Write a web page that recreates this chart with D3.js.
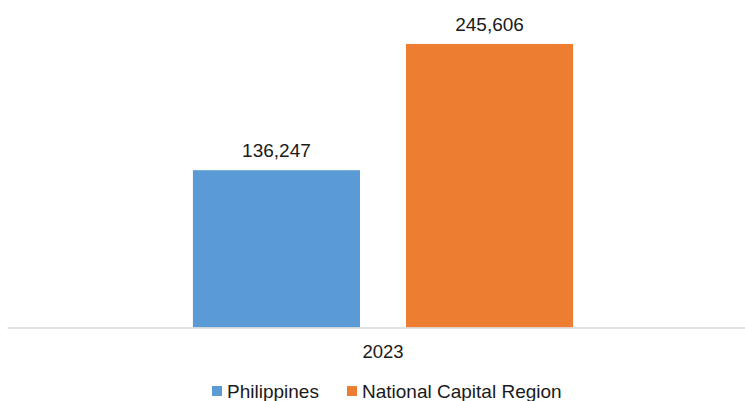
<!DOCTYPE html>
<html>
<head>
<meta charset="utf-8">
<script src="https://cdn.jsdelivr.net/npm/d3@7"></script>
<style>
  body { margin: 0; background: #fff; }
  svg { display: block; font-family: "Liberation Sans", Arial, sans-serif; }
</style>
</head>
<body>
<div id="chart"></div>
<script>
const width = 745;
const height = 401;

const years = ["2023"];
const seriesNames = ["Philippines", "National Capital Region"];
const seriesColors = ["#5B9BD5", "#ED7D31"];
const values2023 = [136247, 245606];

const data = years.map((y, i) => ({
  year: y,
  values: seriesNames.map((s, j) => ({ name: s, value: values2023[j], color: seriesColors[j] }))
}));

const svg = d3.select("#chart")
  .append("svg")
  .attr("width", width)
  .attr("height", height);

const x0 = d3.scaleBand()
  .domain(years)
  .range([7, 759])
  .paddingInner(0)
  .paddingOuter(0.489);

const x1 = d3.scaleBand()
  .domain(seriesNames)
  .range([0, x0.bandwidth()])
  .paddingInner(0.216)
  .paddingOuter(0);

const y = d3.scaleLinear()
  .domain([0, 275000])
  .range([327.5, 10]);

const groups = svg.selectAll("g.year")
  .data(data)
  .enter()
  .append("g")
  .attr("class", "year")
  .attr("transform", d => `translate(${x0(d.year)},0)`);

groups.selectAll("rect")
  .data(d => d.values)
  .enter()
  .append("rect")
  .attr("x", d => x1(d.name))
  .attr("y", d => y(d.value))
  .attr("width", x1.bandwidth())
  .attr("height", d => y(0) - y(d.value))
  .attr("fill", d => d.color);

groups.selectAll("text.val")
  .data(d => d.values)
  .enter()
  .append("text")
  .attr("class", "val")
  .attr("x", d => x1(d.name) + x1.bandwidth() / 2)
  .attr("y", d => y(d.value) - 13)
  .attr("text-anchor", "middle")
  .attr("font-size", 19)
  .attr("fill", "#1a1a1a")
  .text(d => d3.format(",")(d.value));

const xAxis = svg.append("g")
  .attr("transform", `translate(0,${y(0)})`)
  .call(d3.axisBottom(x0).tickSize(0).tickPadding(17));

xAxis.select(".domain")
  .attr("stroke", "#d9d9d9")
  .attr("stroke-width", 1.5);

xAxis.selectAll("text")
  .attr("font-size", 18.5)
  .attr("font-family", "Liberation Sans, Arial, sans-serif")
  .attr("fill", "#1a1a1a");

// legend
const legendX = [212, 347];
const legend = svg.selectAll("g.legend")
  .data(seriesNames)
  .enter()
  .append("g")
  .attr("class", "legend")
  .attr("transform", (d, i) => `translate(${legendX[i]},386)`);

legend.append("rect")
  .attr("width", 10)
  .attr("height", 10)
  .attr("fill", (d, i) => seriesColors[i]);

legend.append("text")
  .attr("x", 15)
  .attr("y", 11.5)
  .attr("font-size", 19)
  .attr("fill", "#1a1a1a")
  .text(d => d);
</script>
</body>
</html>
